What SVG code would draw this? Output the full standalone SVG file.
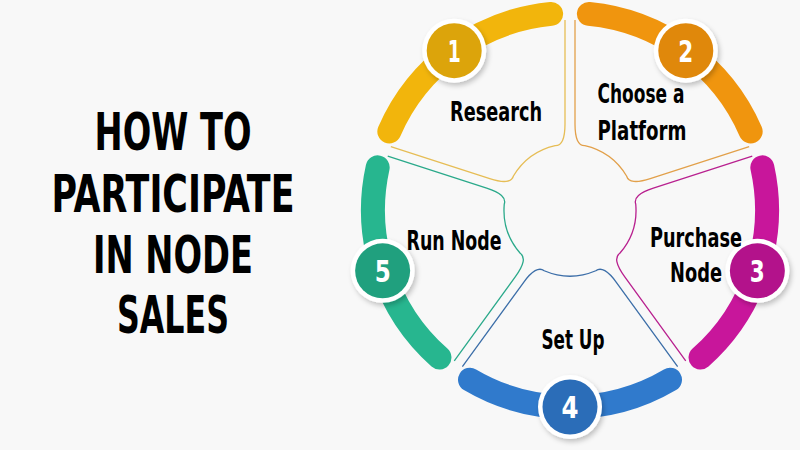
<svg xmlns="http://www.w3.org/2000/svg" width="800" height="450" viewBox="0 0 800 450">
<defs>
<style>
.bg{fill:#f8f8f8}
.arc{fill:none;stroke-width:24;stroke-linecap:round}
.sec{fill:none;stroke-width:1.3;stroke-linejoin:round}
.ring{fill:#ffffff}
.title{font-family:"Liberation Sans Narrow","DejaVu Sans Condensed","Liberation Sans",sans-serif;font-weight:bold;font-size:51px;fill:#000;text-anchor:middle}
.lbl{font-family:"Liberation Sans Narrow","DejaVu Sans Condensed","Liberation Sans",sans-serif;font-weight:bold;font-size:26px;fill:#000;text-anchor:middle}
.num{font-family:"Liberation Sans Narrow","DejaVu Sans Condensed","Liberation Sans",sans-serif;font-weight:bold;font-size:31px;fill:#fff;text-anchor:middle}
</style>
<filter id="sh" x="-30%" y="-30%" width="160%" height="160%">
<feDropShadow dx="2" dy="3" stdDeviation="2.5" flood-color="#000" flood-opacity="0.22"/>
</filter>
</defs>
<rect class="bg" x="0" y="0" width="800" height="450"/>
<g id="title">
<text class="title" x="173" y="150" textLength="157" lengthAdjust="spacingAndGlyphs">HOW TO</text>
<text class="title" x="173" y="212" textLength="243" lengthAdjust="spacingAndGlyphs">PARTICIPATE</text>
<text class="title" x="173" y="273" textLength="160" lengthAdjust="spacingAndGlyphs">IN NODE</text>
<text class="title" x="173" y="333" textLength="112" lengthAdjust="spacingAndGlyphs">SALES</text>
</g>
<g id="connectors">
<path class="sec" stroke="#e6bd55" d="M390.84,146.54 L489.75,178.67 Q510.67,185.47 513.43,176.01 A66,66 0 0 1 555.15,145.69 Q565,146 565,124 L565,20"/>
<path class="sec" stroke="#e2a04a" d="M575,20 L575,124 Q575,146 584.85,145.69 A66,66 0 0 1 626.57,176.01 Q629.33,185.47 650.25,178.68 L749.17,146.54"/>
<path class="sec" stroke="#b8208f" d="M752.26,156.05 L653.34,188.19 Q632.42,194.98 635.75,204.25 A66,66 0 0 1 619.81,253.30 Q611.67,258.84 624.60,276.63 L685.73,360.77"/>
<path class="sec" stroke="#3c6ea8" d="M677.64,366.65 L616.51,282.51 Q603.58,264.72 595.79,270.75 A66,66 0 0 1 544.21,270.75 Q536.43,264.72 523.50,282.51 L462.37,366.65"/>
<path class="sec" stroke="#2aa98a" d="M454.28,360.77 L515.41,276.63 Q528.34,258.84 520.19,253.30 A66,66 0 0 1 504.25,204.25 Q507.58,194.98 486.66,188.19 L387.74,156.05"/>
</g>
<g id="node1">
<path class="arc" stroke="#f2b50c" d="M389.34,131.45 A197,197 0 0 1 551.12,13.91"/>
<circle class="ring" cx="454.2" cy="50.63" r="32" filter="url(#sh)"/>
<circle cx="454.2" cy="50.63" r="27.5" fill="#dca40b"/>
<text class="num" x="454.2" y="61.6" textLength="13" lengthAdjust="spacingAndGlyphs">1</text>
<text class="lbl" x="496" y="121" textLength="92" lengthAdjust="spacingAndGlyphs">Research</text>
</g>
<g id="node2">
<path class="arc" stroke="#f0950e" d="M588.88,13.91 A197,197 0 0 1 750.66,131.45"/>
<circle class="ring" cx="685.8" cy="50.63" r="32" filter="url(#sh)"/>
<circle cx="685.8" cy="50.63" r="27.5" fill="#e0880b"/>
<text class="num" x="685.8" y="61.6" textLength="15" lengthAdjust="spacingAndGlyphs">2</text>
<text class="lbl" x="641" y="103" textLength="87" lengthAdjust="spacingAndGlyphs">Choose a</text>
<text class="lbl" x="642" y="140" textLength="89" lengthAdjust="spacingAndGlyphs">Platform</text>
</g>
<g id="node3">
<path class="arc" stroke="#c8169b" d="M762.33,167.36 A197,197 0 0 1 700.54,357.55"/>
<circle class="ring" cx="757.36" cy="270.87" r="32" filter="url(#sh)"/>
<circle cx="757.36" cy="270.87" r="27.5" fill="#b3128b"/>
<text class="num" x="757.36" y="281.8" textLength="15" lengthAdjust="spacingAndGlyphs">3</text>
<text class="lbl" x="696" y="247" textLength="92" lengthAdjust="spacingAndGlyphs">Purchase</text>
<text class="lbl" x="696" y="282" textLength="52" lengthAdjust="spacingAndGlyphs">Node</text>
</g>
<g id="node4">
<path class="arc" stroke="#307acc" d="M669.99,379.74 A197,197 0 0 1 470.01,379.74"/>
<circle class="ring" cx="570" cy="407" r="32" filter="url(#sh)"/>
<circle cx="570" cy="407" r="27.5" fill="#2b6db8"/>
<text class="num" x="570" y="418" textLength="17" lengthAdjust="spacingAndGlyphs">4</text>
<text class="lbl" x="573" y="349" textLength="63" lengthAdjust="spacingAndGlyphs">Set Up</text>
</g>
<g id="node5">
<path class="arc" stroke="#27b68f" d="M439.46,357.55 A197,197 0 0 1 377.67,167.36"/>
<circle class="ring" cx="382.64" cy="270.87" r="32" filter="url(#sh)"/>
<circle cx="382.64" cy="270.87" r="27.5" fill="#20a07e"/>
<text class="num" x="382.64" y="281.8" textLength="16" lengthAdjust="spacingAndGlyphs">5</text>
<text class="lbl" x="454" y="250" textLength="95" lengthAdjust="spacingAndGlyphs">Run Node</text>
</g>
</svg>
